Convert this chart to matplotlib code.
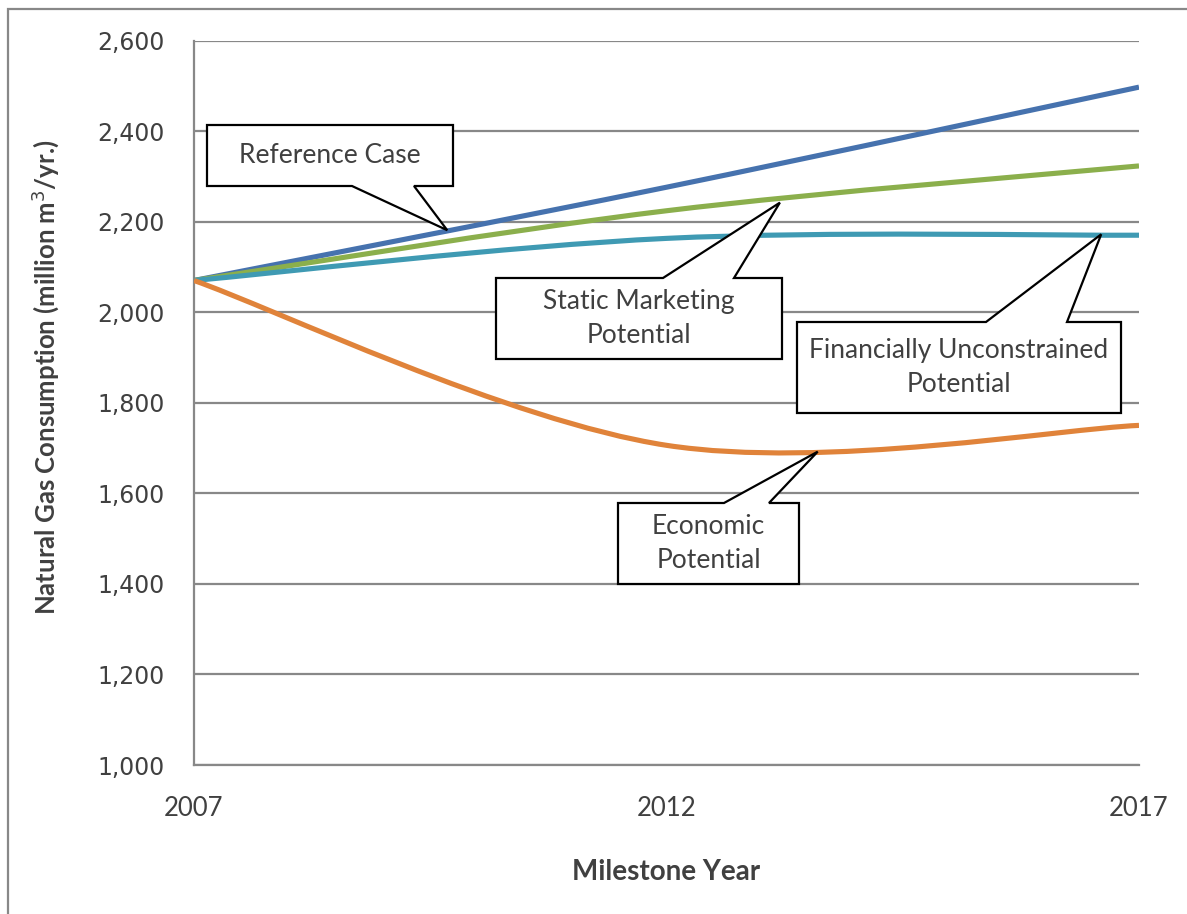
import numpy as np
import matplotlib
matplotlib.use("Agg")
import matplotlib.pyplot as plt
from matplotlib.path import Path
from matplotlib.patches import PathPatch, Polygon, Rectangle

plt.rcParams["font.family"] = ["Lato", "DejaVu Sans"]

# Milestone years and natural gas consumption (million m3/yr.)
years = [2007, 2012, 2017]
reference_case = [2070, 2276, 2497]
static_marketing = [2070, 2224, 2323]
fin_unconstrained = [2070, 2163, 2170]
economic = [2070, 1706, 1750]

series = [
    ("Reference Case", reference_case, "#4672AE"),
    ("Static Marketing Potential", static_marketing, "#8BAF4C"),
    ("Financially Unconstrained Potential", fin_unconstrained, "#3F9AB3"),
    ("Economic Potential", economic, "#E0833A"),
]

y_ticks = list(range(1000, 2601, 200))
text_color = "#404040"
grid_color = "#888888"

W, H = 1187, 914
fig = plt.figure(figsize=(W / 100, H / 100), dpi=100)
ax = fig.add_axes([194 / W, 1 - 765 / H, 945 / W, 724.5 / H])


def smooth_path(xs, ys):
    # Excel-style smoothed line: cubic Bezier segments, control points at 1/6 of neighbour spans
    pts = np.column_stack([xs, ys]).astype(float)
    ext = np.vstack([pts[0], pts, pts[-1]])
    verts = [pts[0]]
    codes = [Path.MOVETO]
    for i in range(len(pts) - 1):
        p_prev, p0, p1, p_next = ext[i], ext[i + 1], ext[i + 2], ext[i + 3]
        c1 = p0 + (p1 - p_prev) / 6
        c2 = p1 - (p_next - p0) / 6
        verts += [c1, c2, p1]
        codes += [Path.CURVE4] * 3
    return Path(verts, codes)


for name, vals, color in series:
    ax.add_patch(PathPatch(smooth_path(years, vals), fill=False, edgecolor=color,
                           lw=3.7, capstyle="butt", zorder=3))

ax.set_xlim(2007, 2017)
ax.set_ylim(1000, 2600)
ax.set_xticks(years)
ax.set_xticklabels([str(y) for y in years])
ax.set_yticks(y_ticks)
ax.set_yticklabels([f"{v:,}" for v in y_ticks], family="DejaVu Sans")
ax.tick_params(axis="x", length=0, pad=22, labelsize=18.5, labelcolor=text_color)
ax.tick_params(axis="y", length=0, pad=21, labelsize=17, labelcolor=text_color)
ax.grid(axis="y", color=grid_color, lw=1.6)
ax.set_axisbelow(True)
for side in ["top", "right"]:
    ax.spines[side].set_visible(False)
for side in ["left", "bottom"]:
    ax.spines[side].set_color(grid_color)
    ax.spines[side].set_linewidth(1.6)

ax.set_xlabel("Milestone Year", fontsize=20, fontweight="bold", color=text_color, labelpad=28)
ax.set_ylabel("Natural Gas Consumption (million m$^3$/yr.)", fontsize=18.5,
              fontweight="bold", color=text_color, va="center")
ax.yaxis.set_label_coords(-0.158, 0.535)

fig.canvas.draw()
inv = ax.transData.inverted()


def to_data(px, py):
    return inv.transform((px, H - py))


def callout(text, box, base, tip, side):
    # box = (left, top, right, bottom) in pixels from the top-left corner
    l, t, r, b = box
    if side == "bottom":
        pts = [(l, t), (r, t), (r, b), (base[1], b), None, (base[0], b), (l, b)]
    else:
        pts = [(l, b), (l, t), (base[0], t), None, (base[1], t), (r, t), (r, b)]
    verts = [tip if p is None else to_data(*p) for p in pts]
    ax.add_patch(Polygon(verts, closed=True, facecolor="white", edgecolor="black",
                         lw=1.6, zorder=5, clip_on=False))
    cx, cy = to_data((l + r) / 2, (t + b) / 2)
    ax.text(cx, cy, text, ha="center", va="center", fontsize=19, color=text_color,
            linespacing=1.45, zorder=6)


callout("Reference Case", (207, 125, 453, 186), (352, 414), (2009.68, 2181), "bottom")
callout("Static Marketing\nPotential", (496, 278, 782, 359), (663, 734), (2013.2, 2242), "top")
callout("Financially Unconstrained\nPotential", (797, 322, 1121, 413), (986, 1067), (2016.6, 2172), "top")
callout("Economic\nPotential", (618, 503, 799, 584), (724, 769), (2013.6, 1692), "top")

# outer chart border
fig.add_artist(Rectangle((7.5 / W, -0.2), 1.5, 1.2 - 8.5 / H, transform=fig.transFigure,
                         fill=False, edgecolor=grid_color, lw=1.6))

fig.savefig("out.png", dpi=100)
